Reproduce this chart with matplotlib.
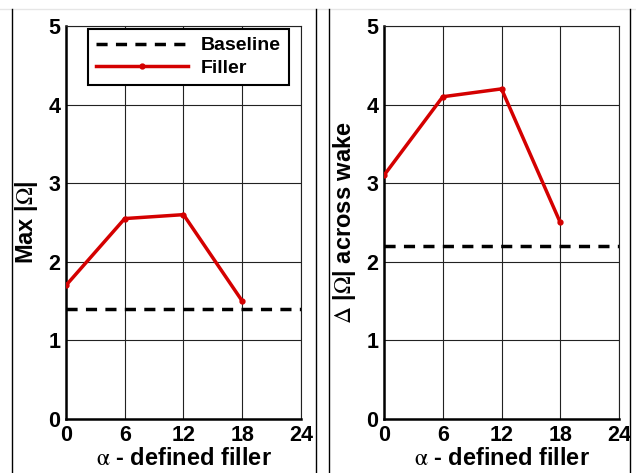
import matplotlib
matplotlib.use("Agg")
import matplotlib.pyplot as plt
from matplotlib.lines import Line2D

plt.rcParams['font.family'] = ['Liberation Sans', 'DejaVu Sans']
plt.rcParams['mathtext.fontset'] = 'stix'

# data
alpha = [0, 6, 12, 18]
max_omega_filler = [1.7, 2.55, 2.6, 1.5]
max_omega_baseline = 1.4
delta_omega_filler = [3.1, 4.1, 4.2, 2.5]
delta_omega_baseline = 2.2

xticks = [0, 6, 12, 18, 24]
yticks = [0, 1, 2, 3, 4, 5]
ylabels = [r"Max |$\mathrm{\Omega}$|", r"$\mathrm{\Delta}$ |$\mathrm{\Omega}$| across wake"]
xlabel = r"$\mathrm{\alpha}$ - defined filler"

W, H = 636, 473
fig = plt.figure(figsize=(W / 100, H / 100), dpi=100)

red = "#d40000"
panels = [
    (66, max_omega_filler, max_omega_baseline, ylabels[0], True),
    (384, delta_omega_filler, delta_omega_baseline, ylabels[1], False),
]

for x0, filler, base, ylab, show_leg in panels:
    ax = fig.add_axes([x0 / W, 1 - 419 / H, (301 - 66) / W, (419 - 26) / H])
    ax.axhline(base, color="black", lw=2.5, ls=(0, (3.2, 2.4)), label="Baseline", zorder=3)
    ax.plot(alpha, filler, color=red, lw=2.5, marker="o", ms=3.5, label="Filler", zorder=4)
    ax.set_xlim(0, 24)
    ax.set_ylim(0, 5)
    ax.set_xticks(xticks)
    ax.set_yticks(yticks)
    ax.grid(True, color="#222222", lw=0.8)
    ax.set_axisbelow(True)
    ax.tick_params(length=0, pad=4, labelsize=15.5)
    for lab in ax.get_xticklabels() + ax.get_yticklabels():
        lab.set_fontweight("bold")
    for s in ["top", "right"]:
        ax.spines[s].set_linewidth(0.8)
        ax.spines[s].set_color("#222222")
    for s in ["left", "bottom"]:
        ax.spines[s].set_linewidth(1.8)
    ax.set_xlabel(xlabel, fontsize=17, fontweight="bold", labelpad=1)
    ax.set_ylabel(ylab, fontsize=17, fontweight="bold", labelpad=6)
    if show_leg:
        leg = ax.legend(loc="upper right", bbox_to_anchor=(1 - 12 / 235, 1 - 3 / 393),
                        borderaxespad=0, prop={"weight": "bold", "size": 14},
                        handlelength=4.7, fancybox=False, framealpha=1,
                        edgecolor="black", borderpad=0.4, labelspacing=0.25,
                        handletextpad=0.7)
        leg.get_frame().set_linewidth(1.5)

# panel frames
fig.add_artist(Line2D([0, 1], [1 - 9 / H, 1 - 9 / H], transform=fig.transFigure,
                      color="#e6e6e6", lw=1))
for px in [12, 316, 329, 630]:
    fig.add_artist(Line2D([px / W, px / W], [0, 1 - 9 / H], transform=fig.transFigure,
                          color="black", lw=1))

fig.savefig("out.png", dpi=100)
